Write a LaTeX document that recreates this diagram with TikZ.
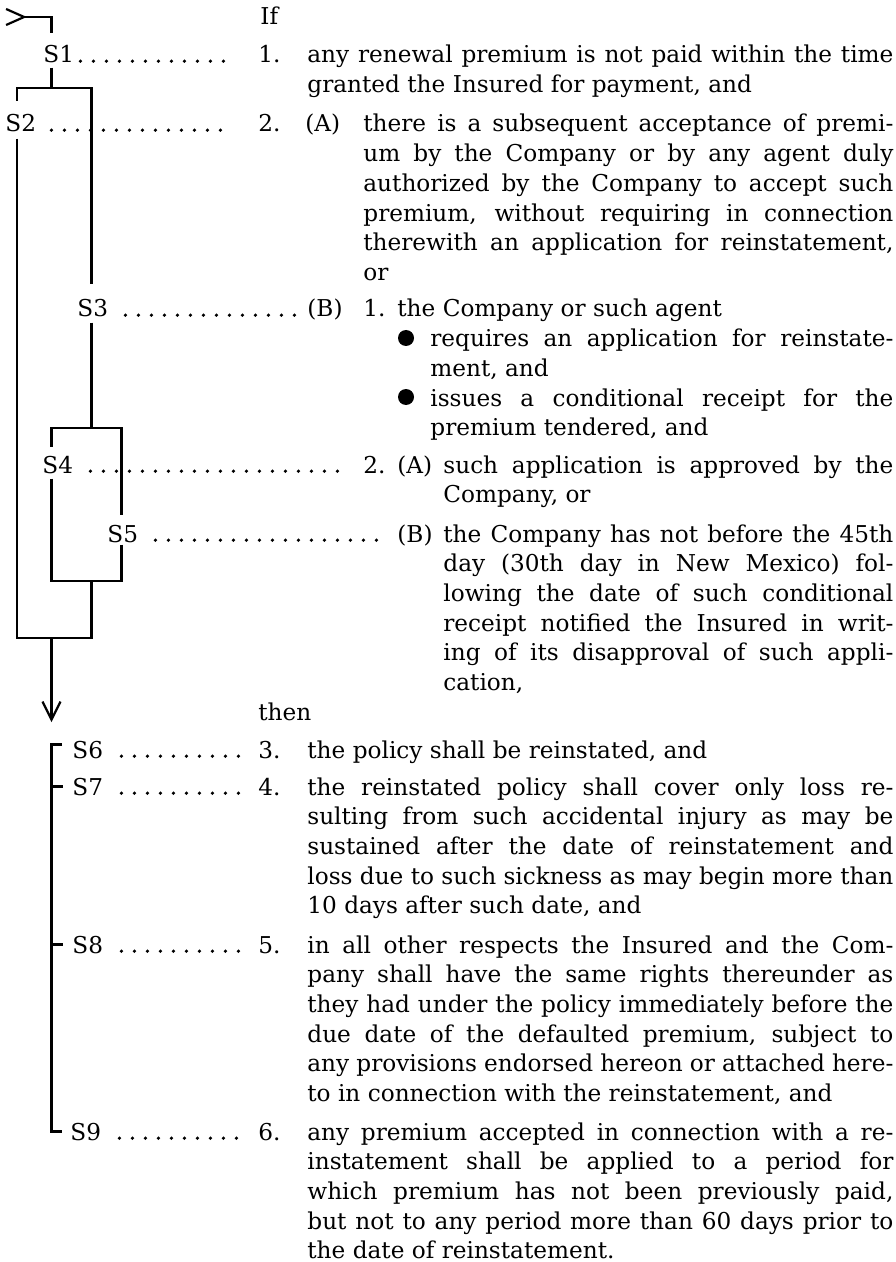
\documentclass[tikz,border=0pt]{standalone}
\usepackage{fontspec}
\setmainfont{DejaVu Serif}
\usepackage{tikz}
\usetikzlibrary{arrows.meta}
\tolerance=10000
\hyphenpenalty=10000
\newcommand{\clausefont}{\fontsize{11.6}{14.85}\selectfont}
\tikzset{
  slabel/.style={inner sep=0pt, anchor=base west, font=\clausefont},
  num/.style={inner sep=0pt, anchor=base west, font=\clausefont},
  body/.style={inner sep=0pt, anchor=base west, font=\clausefont, align=justify, text width=#1},
  body/.default=293pt,
  bul/.style={circle, fill=black, inner sep=0pt, minimum size=8pt},
  tree/.style={line width=1.15pt, draw=black},
  flow/.style={tree, -{Straight Barb[length=9pt, width=9pt, line width=1.1pt]}},
  leader/.style={line width=1.8pt, line cap=round, dash pattern=on 0pt off 6.5pt}
}

\begin{document}
\begin{tikzpicture}[x=0.5pt,y=-0.5pt]
\useasboundingbox (0,0) rectangle (895,1262);
\fill[white] (0,0) rectangle (895,1262);

% conditions
\node[num] (if) at (260,25) {If};
\node[slabel] (s1) at (43,63) {S1};
\node[num] (n1) at (258,63) {1.};
\node[body] (t1) at (307,63) {any renewal premium is not paid within the time\linebreak granted the Insured for payment, and};

\node[slabel] (s2) at (5,132) {S2};
\node[num] (n2) at (258,132) {2.};
\node[num] (a2) at (305,132) {(A)};
\node[body=265pt] (t2) at (363,132) {there is a subsequent acceptance of premi-\linebreak um by the Company or by any agent duly\linebreak authorized by the Company to accept such\linebreak premium, without requiring in connection\linebreak therewith an application for reinstatement,\linebreak or};

\node[slabel] (s3) at (77,317) {S3};
\node[num] (b3) at (307,317) {(B)};
\node[num] (n3) at (363,317) {1.};
\node[num] (t3) at (397,317) {the Company or such agent};
\node[bul] (bul1) at (406,338) {};
\node[body=231.5pt] (t3a) at (430,347) {requires an application for reinstate-\linebreak ment, and};
\node[bul] (bul2) at (406,397) {};
\node[body=231.5pt] (t3b) at (430,406) {issues a conditional receipt for the\linebreak premium tendered, and};

\node[slabel] (s4) at (42,473) {S4};
\node[num] (n4) at (363,473) {2.};
\node[num] (a4) at (397,473) {(A)};
\node[body=225pt] (t4) at (443,473) {such application is approved by the\linebreak Company, or};

\node[slabel] (s5) at (107,542) {S5};
\node[num] (a5) at (397,542) {(B)};
\node[body=225pt] (t5) at (443,542) {the Company has not before the 45th\linebreak day (30th day in New Mexico) fol-\linebreak lowing the date of such conditional\linebreak receipt notified the Insured in writ-\linebreak ing of its disapproval of such appli-\linebreak cation,};

% consequences
\node[num] (then) at (258,720) {then};
\node[slabel] (s6) at (72,758) {S6};
\node[num] (n6) at (258,758) {3.};
\node[body] (t6) at (307,758) {the policy shall be reinstated, and};

\node[slabel] (s7) at (72,795) {S7};
\node[num] (n7) at (258,795) {4.};
\node[body] (t7) at (307,795) {the reinstated policy shall cover only loss re-\linebreak sulting from such accidental injury as may be\linebreak sustained after the date of reinstatement and\linebreak loss due to such sickness as may begin more than\linebreak 10 days after such date, and};

\node[slabel] (s8) at (72,953) {S8};
\node[num] (n8) at (258,953) {5.};
\node[body] (t8) at (307,953) {in all other respects the Insured and the Com-\linebreak pany shall have the same rights thereunder as\linebreak they had under the policy immediately before the\linebreak due date of the defaulted premium, subject to\linebreak any provisions endorsed hereon or attached here-\linebreak to in connection with the reinstatement, and};

\node[slabel] (s9) at (70,1140) {S9};
\node[num] (n9) at (258,1140) {6.};
\node[body] (t9) at (307,1140) {any premium accepted in connection with a re-\linebreak instatement shall be applied to a period for\linebreak which premium has not been previously paid,\linebreak but not to any period more than 60 days prior to\linebreak the date of reinstatement.};

% leaders
\draw[leader, shorten <=3pt, shorten >=16.5pt] ([yshift=0.9pt]s1.base east) -- ([yshift=0.9pt]n1.base west);
\draw[leader, shorten <=7.5pt, shorten >=17pt] ([yshift=0.9pt]s2.base east) -- ([yshift=0.9pt]n2.base west);
\draw[leader, shorten <=8.5pt, shorten >=5pt] ([yshift=0.9pt]s3.base east) -- ([yshift=0.9pt]b3.base west);
\draw[leader, shorten <=8.5pt, shorten >=11pt] ([yshift=0.9pt]s4.base east) -- ([yshift=0.9pt]n4.base west);
\draw[leader, shorten <=8.5pt, shorten >=5.5pt] ([yshift=0.9pt]s5.base east) -- ([yshift=0.9pt]a5.base west);
\foreach \i in {6,7,8,9}
  \draw[leader, shorten <=9pt, shorten >=8pt] ([yshift=0.9pt]s\i.base east) -- ([yshift=0.9pt]n\i.base west);

% flow lines
\coordinate (entry) at (5,17);
\coordinate (in) at (51.5,17);
\coordinate (xl) at (17,0);
\coordinate (xa) at (51.5,0);
\coordinate (xr) at (91.5,0);
\coordinate (xq) at (121.5,0);
\coordinate (f1) at (51.5,88);
\coordinate (f3) at (91.5,428);
\coordinate (m5) at (91.5,581);
\coordinate (m2) at (51.5,638);
\coordinate (out) at (51.5,722);
\coordinate (brk) at (51.5,0);

\draw[tree, {Straight Barb[reversed, length=9pt, width=8pt, line width=1.1pt]}-, shorten >=6pt] (entry) -- (in) -- (in |- s1.north);
\draw[tree, shorten <=2pt] (s1.south -| f1) -- (f1);
\draw[tree, shorten >=6.5pt] (f1) -| (s2.north -| xl);
\draw[tree, shorten >=7.5pt] (f1) -| (s3.north -| xr);
\draw[tree, shorten <=2.5pt] (s3.south -| f3) -- (f3);
\draw[tree, shorten >=4pt] (f3) -| (s4.north -| xa);
\draw[tree, shorten >=4.5pt] (f3) -| (s5.north -| xq);
\draw[tree, shorten <=2.5pt] (s4.south -| xa) |- (m5);
\draw[tree, shorten <=1pt] (s5.south -| xq) |- (m5);
\draw[tree, shorten <=3pt] (s2.south -| xl) |- (m2 -| m5) -- (m5);
\draw[flow] (m2) -- (out);

% bracket of consequences
\draw[tree] ([shift={(-5pt,2.5pt)}]s6.west) -| (brk |- s9.west) -- ([xshift=-4pt]s9.west);
\draw[tree] (brk |- s7.west) -- ([xshift=-4.5pt]s7.west);
\draw[tree] (brk |- s8.west) -- ([xshift=-4.5pt]s8.west);

\end{tikzpicture}
\end{document}
